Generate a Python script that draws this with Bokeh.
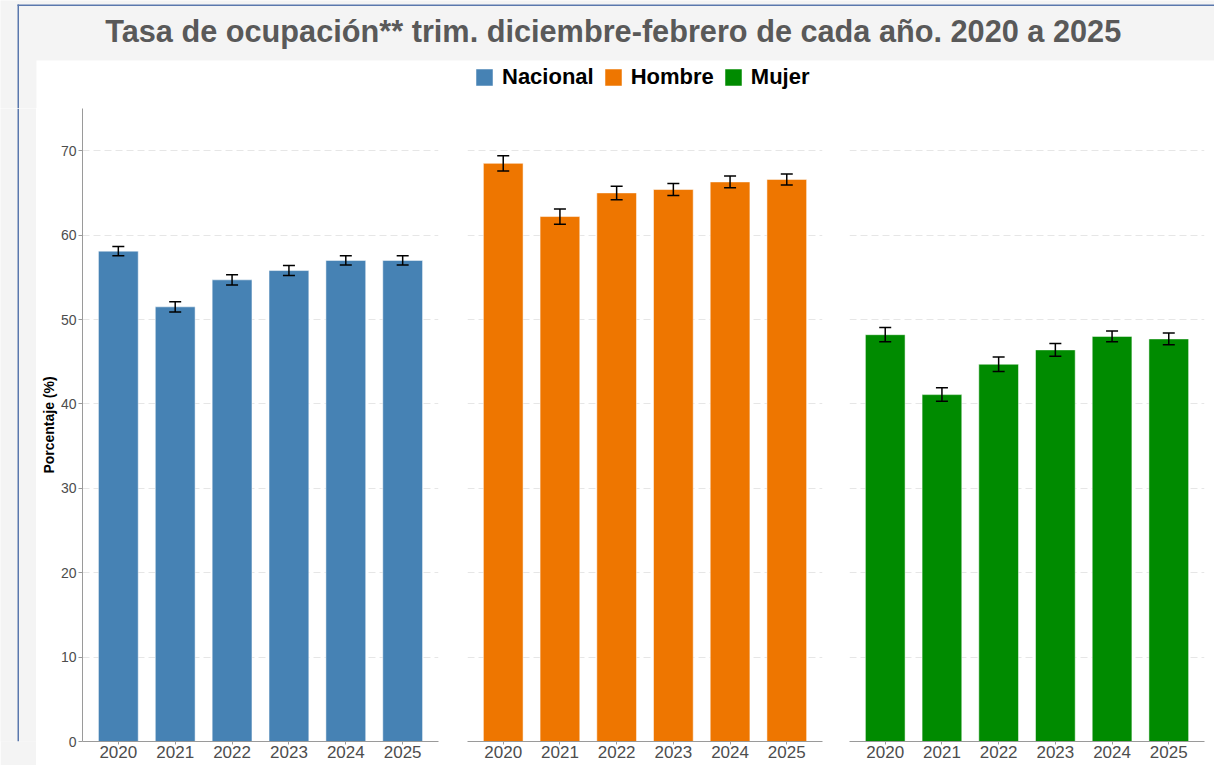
import numpy as np
from bokeh.plotting import figure
from bokeh.layouts import column, row
from bokeh.models import (Range1d, FixedTicker, Whisker, TeeHead, ColumnDataSource,
                          Legend, LegendItem, BoxAnnotation)
from bokeh.embed import file_html
from bokeh.resources import INLINE
from bokeh.core.properties import value

# ---------------- data ----------------
TITLE = "Tasa de ocupación** trim.  diciembre-febrero de cada año. 2020 a 2025"
Y_LABEL = "Porcentaje (%)"
years = [2020, 2021, 2022, 2023, 2024, 2025]
series = ["Nacional", "Hombre", "Mujer"]
colors = ["#4682B4", "#EE7600", "#008B00"]

nacional = [58.1, 51.5, 54.7, 55.8, 57.0, 57.0]
nacional_err = [0.55, 0.6, 0.6, 0.6, 0.55, 0.55]
hombre = [68.5, 62.2, 65.0, 65.4, 66.3, 66.6]
hombre_err = [0.9, 0.9, 0.8, 0.7, 0.7, 0.65]
mujer = [48.2, 41.1, 44.7, 46.4, 48.0, 47.7]
mujer_err = [0.85, 0.8, 0.85, 0.75, 0.65, 0.7]

y_ticks = [0, 10, 20, 30, 40, 50, 60, 70]

# ---------------- style ----------------
FONT = "Liberation Sans"
GRAY_BG = "#f4f4f4"
BORDER = "#5a78ad"
AXIS = "#9a9a9a"
TICK_TXT = "#4d4d4d"
TOTAL_W = 1214
HEADER_H = 108
PANEL_H = 657
STRIP_W = 36

# ---------------- header (title + legend) ----------------
header = figure(width=TOTAL_W, height=HEADER_H, x_range=Range1d(0, TOTAL_W),
                y_range=Range1d(HEADER_H, 0), toolbar_location=None,
                output_backend="svg", min_border=0,
                x_axis_location=None, y_axis_location=None)
header.grid.visible = False
header.outline_line_color = None
header.background_fill_color = GRAY_BG
header.border_fill_color = GRAY_BG
header.add_layout(BoxAnnotation(left=STRIP_W, right=TOTAL_W, top=60, bottom=HEADER_H,
                                fill_color="white", fill_alpha=1, line_alpha=0,
                                level="underlay"))
# frame border lines (decoration)
header.quad(left=[17, 17], right=[TOTAL_W, 18.5], top=[4, 4], bottom=[5.5, HEADER_H],
            fill_color=BORDER, line_color=None)
header.text(x=[617], y=[31], text=[TITLE], text_align="center",
            text_baseline="middle", text_font=value(FONT),
            text_font_size="30.7px", text_font_style="bold", text_color="#595959")

items = []
for name, col in zip(series, colors):
    r = header.vbar(x=np.array([np.nan]), top=np.array([np.nan]), width=1,
                    fill_color=col, line_color=col, line_alpha=0.5)
    items.append(LegendItem(label=name, renderers=[r]))
legend = Legend(items=items, orientation="horizontal", location=(474, 18),
                glyph_width=20, glyph_height=20, label_standoff=8, spacing=9,
                padding=0, margin=0, border_line_alpha=0, background_fill_alpha=0,
                label_text_font=FONT, label_text_font_size="22px",
                label_text_font_style="bold", label_text_color="black",
                label_height=20)
header.add_layout(legend, "center")

# ---------------- left gray strip ----------------
strip = figure(width=STRIP_W, height=PANEL_H, x_range=Range1d(0, STRIP_W),
               y_range=Range1d(0, PANEL_H),
               toolbar_location=None, output_backend="svg", min_border=0,
               x_axis_location=None, y_axis_location=None)
strip.grid.visible = False
strip.outline_line_color = None
strip.background_fill_color = GRAY_BG
strip.border_fill_color = GRAY_BG
strip.quad(left=[17], right=[18.5], top=[PANEL_H], bottom=[0],
           fill_color=BORDER, line_color=None)


# ---------------- panels ----------------
def make_panel(vals, errs, color, width, left, right, show_y):
    src = ColumnDataSource(dict(
        year=years, val=vals,
        lo=[v - e for v, e in zip(vals, errs)],
        hi=[v + e for v, e in zip(vals, errs)],
    ))
    p = figure(width=width, height=PANEL_H,
               x_range=Range1d(2019.37, 2025.63), y_range=Range1d(0, 75),
               toolbar_location=None, output_backend="svg",
               min_border_left=left, min_border_right=right,
               min_border_top=0, min_border_bottom=24,
               y_axis_location="left" if show_y else None)
    p.outline_line_color = None
    p.background_fill_color = "white"
    p.border_fill_color = "white"
    p.xgrid.visible = False
    p.ygrid.ticker = FixedTicker(ticks=y_ticks)
    p.ygrid.grid_line_color = "#e6e6e6"
    p.ygrid.grid_line_dash = "7 4"
    p.ygrid.grid_line_width = 1

    p.vbar(x="year", top="val", width=0.7, source=src,
           fill_color=color, line_color="white", line_alpha=0.5, line_width=1)
    p.add_layout(Whisker(base="year", upper="hi", lower="lo", source=src,
                         line_color="black", line_width=1.5, level="overlay",
                         upper_head=TeeHead(size=12, line_width=1.5, line_color="black"),
                         lower_head=TeeHead(size=12, line_width=1.5, line_color="black")))

    xa = p.xaxis[0]
    xa.ticker = FixedTicker(ticks=years)
    xa.axis_line_color = AXIS
    xa.major_tick_line_color = AXIS
    xa.major_tick_out = 3
    xa.major_tick_in = 0
    xa.minor_tick_line_color = None
    xa.major_label_standoff = 1
    xa.major_label_text_font = FONT
    xa.major_label_text_font_size = "17px"
    xa.major_label_text_color = TICK_TXT

    if show_y:
        ya = p.yaxis[0]
        ya.ticker = FixedTicker(ticks=y_ticks)
        ya.axis_line_color = AXIS
        ya.major_tick_line_color = AXIS
        ya.major_tick_out = 4
        ya.major_tick_in = 0
        ya.minor_tick_line_color = None
        ya.major_label_standoff = 2
        ya.major_label_text_font = FONT
        ya.major_label_text_font_size = "14px"
        ya.major_label_text_color = TICK_TXT
        ya.axis_label = Y_LABEL
        ya.axis_label_text_font = FONT
        ya.axis_label_text_font_size = "14px"
        ya.axis_label_text_font_style = "bold"
        ya.axis_label_text_color = "black"
        ya.axis_label_standoff = 1
    return p


p1 = make_panel(nacional, nacional_err, colors[0], 416, 46, 14, True)
p2 = make_panel(hombre, hombre_err, colors[1], 384, 15, 14, False)
p3 = make_panel(mujer, mujer_err, colors[2], 378, 13, 10, False)

layout = column(header, row(strip, p1, p2, p3))

with open("out.html", "w") as f:
    f.write(file_html(layout, INLINE))
